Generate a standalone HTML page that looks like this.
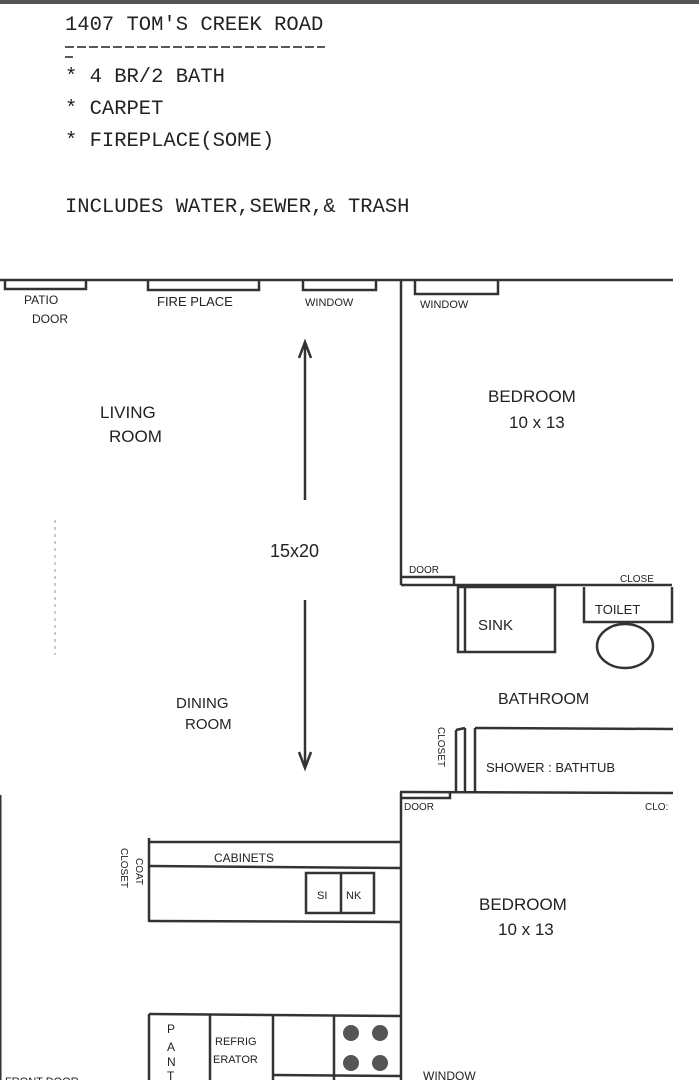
<!DOCTYPE html>
<html><head><meta charset="utf-8"><style>
html,body{margin:0;padding:0;background:#fff;}
svg{display:block;}
.m{font-family:"Liberation Mono",monospace;font-size:20.5px;fill:#222;}
.h{font-family:"Liberation Sans",sans-serif;fill:#222;}
</style></head><body>
<svg width="699" height="1080" viewBox="0 0 699 1080" xmlns="http://www.w3.org/2000/svg">
<rect x="0" y="0" width="699" height="4" fill="#555"/>
<text class="m" x="65" y="30">1407 TOM'S CREEK ROAD</text>
<line x1="65" y1="47" x2="325" y2="47" stroke="#222" stroke-width="1.5" stroke-dasharray="9,3"/>
<line x1="65" y1="57" x2="73" y2="57" stroke="#222" stroke-width="1.5"/>
<text class="m" x="65" y="82">* 4 BR/2 BATH</text>
<text class="m" x="65" y="114">* CARPET</text>
<text class="m" x="65" y="146">* FIREPLACE(SOME)</text>
<text class="m" x="65" y="212">INCLUDES WATER,SEWER,&amp; TRASH</text>

<g stroke="#333" stroke-width="2.5" fill="none">
<line x1="0" y1="280" x2="673" y2="280"/>
<polyline points="5,281 5,289 86,289 86,281"/>
<polyline points="148,281 148,290 259,290 259,281"/>
<polyline points="303,281 303,290 376,290 376,281"/>
<polyline points="415,281 415,294 498,294 498,281"/>
<line x1="401" y1="280" x2="401" y2="585"/>
<line x1="401" y1="585" x2="672" y2="585"/>
<polyline points="401,577 454,577 454,585"/>
<rect x="458" y="587" width="97" height="65"/>
<line x1="465" y1="587" x2="465" y2="652"/>
<polyline points="584,587 584,622 672,622 672,587"/>
<ellipse cx="625" cy="646" rx="28" ry="22"/>
<line x1="305" y1="345" x2="305" y2="500"/>
<polyline points="299,358 305,342 311,358"/>
<line x1="305" y1="600" x2="305" y2="766"/>
<polyline points="299,752 305,768 311,752"/>
<line x1="456" y1="730" x2="456" y2="792"/>
<line x1="465" y1="728" x2="465" y2="792"/>
<polyline points="456,730 465,728"/>
<line x1="475" y1="728" x2="475" y2="792"/>
<line x1="475" y1="728" x2="673" y2="729"/>
<line x1="400" y1="792" x2="673" y2="793"/>
<polyline points="402,798 450,798 450,793"/>
<line x1="401" y1="792" x2="401" y2="1080"/>
<line x1="0" y1="795" x2="0" y2="1080" stroke-width="3"/>
<line x1="149" y1="838" x2="149" y2="922"/>
<line x1="149" y1="842" x2="400" y2="842"/>
<line x1="149" y1="866" x2="400" y2="868"/>
<line x1="149" y1="921" x2="400" y2="922"/>
<rect x="306" y="873" width="68" height="40"/>
<line x1="341" y1="873" x2="341" y2="913"/>
<line x1="149" y1="1014" x2="149" y2="1080"/>
<line x1="149" y1="1014" x2="400" y2="1016"/>
<line x1="210" y1="1014" x2="210" y2="1080"/>
<line x1="273" y1="1015" x2="273" y2="1080"/>
<line x1="334" y1="1015" x2="334" y2="1080"/>
<line x1="273" y1="1075" x2="400" y2="1076"/>
</g>
<line x1="55" y1="520" x2="55" y2="655" stroke="#999" stroke-width="1" stroke-dasharray="3,4"/>
<g fill="#555">
<circle cx="351" cy="1033" r="8"/><circle cx="380" cy="1033" r="8"/>
<circle cx="351" cy="1063" r="8"/><circle cx="380" cy="1063" r="8"/>
</g>

<g class="h">
<text x="24" y="304" font-size="12">PATIO</text>
<text x="32" y="323" font-size="12">DOOR</text>
<text x="157" y="306" font-size="13">FIRE PLACE</text>
<text x="305" y="306" font-size="11">WINDOW</text>
<text x="420" y="308" font-size="11">WINDOW</text>
<text x="100" y="418" font-size="17">LIVING</text>
<text x="109" y="442" font-size="17">ROOM</text>
<text x="488" y="402" font-size="17">BEDROOM</text>
<text x="509" y="428" font-size="17">10 x 13</text>
<text x="270" y="557" font-size="18">15x20</text>
<text x="409" y="573" font-size="10">DOOR</text>
<text x="620" y="582" font-size="10">CLOSE</text>
<text x="478" y="630" font-size="15">SINK</text>
<text x="595" y="614" font-size="13">TOILET</text>
<text x="176" y="708" font-size="15">DINING</text>
<text x="185" y="729" font-size="15">ROOM</text>
<text x="498" y="704" font-size="16">BATHROOM</text>
<text x="486" y="772" font-size="13">SHOWER : BATHTUB</text>
<text transform="translate(438,727) rotate(90)" font-size="10">CLOSET</text>
<text x="404" y="810" font-size="10">DOOR</text>
<text x="645" y="810" font-size="10">CLO:</text>
<text x="214" y="862" font-size="12">CABINETS</text>
<text x="317" y="899" font-size="11">SI</text>
<text x="346" y="899" font-size="11">NK</text>
<text transform="translate(121,848) rotate(90)" font-size="10">CLOSET</text>
<text transform="translate(136,858) rotate(90)" font-size="10">COAT</text>
<text x="479" y="910" font-size="17">BEDROOM</text>
<text x="498" y="935" font-size="17">10 x 13</text>
<text x="167" y="1033" font-size="12">P</text>
<text x="167" y="1051" font-size="12">A</text>
<text x="167" y="1066" font-size="12">N</text>
<text x="167" y="1080" font-size="12">T</text>
<text x="215" y="1045" font-size="11">REFRIG</text>
<text x="213" y="1063" font-size="11">ERATOR</text>
<text x="423" y="1080" font-size="12">WINDOW</text>
<text x="5" y="1085" font-size="11">FRONT DOOR</text>
</g>
</svg>
</body></html>
